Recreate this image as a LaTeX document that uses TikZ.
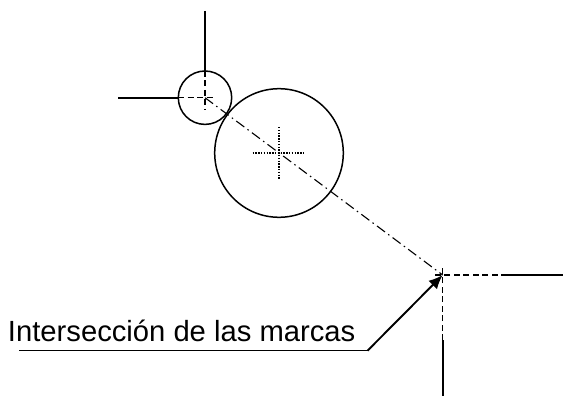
\documentclass[tikz,border=0pt]{standalone}
\usepackage{fontspec}
\setmainfont{Liberation Sans}
\usetikzlibrary{arrows.meta}
\begin{document}
\begin{tikzpicture}[x=1pt, y=-1pt, font=\fontsize{29.2}{30}\selectfont,
	solidline/.style={line width=1.9pt},
	thinsolid/.style={line width=1.5pt},
	centerdash/.style={line width=1.2pt, dash pattern=on 6pt off 3.5pt},
	centerdot/.style={line width=1.5pt, dash pattern=on 1.4pt off 1.4pt},
	chainline/.style={line width=1.1pt, dash pattern=on 10pt off 4pt on 1.5pt off 4pt}]
	\useasboundingbox (0,0) rectangle (563,396);

	\coordinate (small) at (205,97.7);
	\coordinate (big) at (279,153);
	\coordinate (mark) at (442.7,275);

	\node[circle, draw, thinsolid, minimum size=53.4pt, inner sep=0pt, outer sep=0pt] (smallc) at (small) {};
	\node[circle, draw, thinsolid, minimum size=128.6pt, inner sep=0pt, outer sep=0pt] (bigc) at (big) {};

	\node[anchor=base west, inner sep=0pt] (label) at (7.8,341) {Intersección de las marcas};
	\coordinate (labelstart) at (19,350.7);
	\coordinate (labelend) at (367.5,350.7);

	\coordinate (topA) at (205,11);
	\coordinate (topB) at (205,71);
	\coordinate (topC) at (205,110);
	\coordinate (leftA) at (118,97.7);
	\coordinate (leftB) at (178,97.7);
	\coordinate (leftC) at (216,97.7);
	\coordinate (botA) at (442.7,396);
	\coordinate (botB) at (442.7,340);
	\coordinate (botC) at (442.7,264);
	\coordinate (rightA) at (563,275);
	\coordinate (rightB) at (507,275);
	\coordinate (rightC) at (432,275);
	\coordinate (bigL) at (252.5,153);
	\coordinate (bigR) at (305,153);
	\coordinate (bigT) at (279,127);
	\coordinate (bigB) at (279,180);

	\draw[solidline] (topA) -- (topB);
	\draw[solidline] (leftA) -- (leftB);
	\draw[solidline] (botA) -- (botB);
	\draw[solidline] (rightA) -- (rightB);

	\draw[centerdash] (topB) -- (topC);
	\draw[centerdash] (leftB) -- (leftC);
	\draw[centerdash] (botB) -- (botC);
	\draw[centerdash] (rightB) -- (rightC);

	\draw[centerdot] (bigL) -- (bigR);
	\draw[centerdot] (bigT) -- (bigB);

	\draw[chainline] (small) -- (mark);

	\draw[thinsolid] (labelstart) -- (labelend);
	\draw[-{Latex[length=14pt,width=12pt]}, line width=1.9pt] (labelend) -- (mark);
\end{tikzpicture}
\end{document}
